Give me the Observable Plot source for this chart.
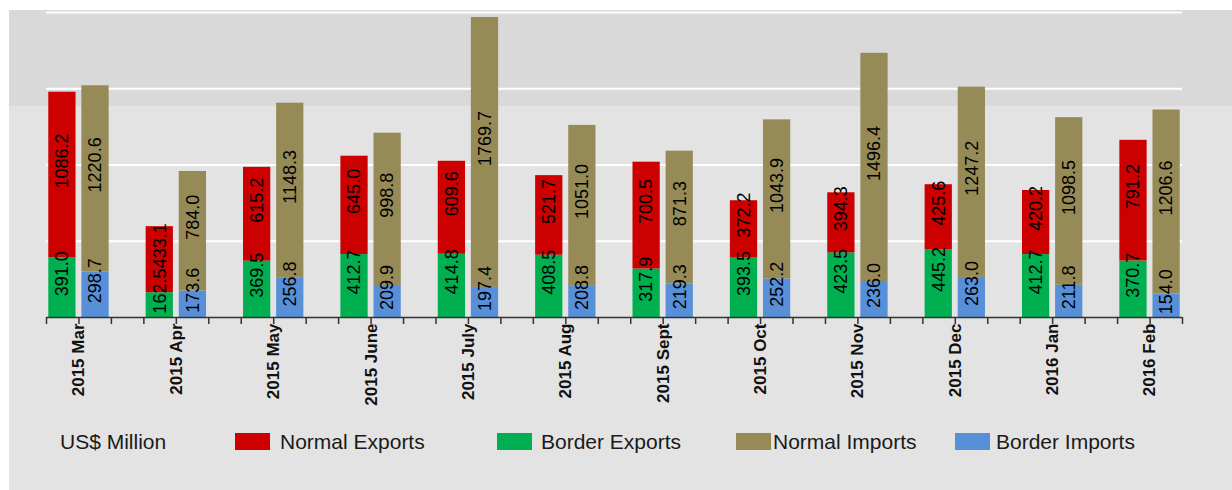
<!DOCTYPE html>
<html>
<head>
<meta charset="utf-8">
<script src="https://cdn.jsdelivr.net/npm/d3@7"></script>
<script src="https://cdn.jsdelivr.net/npm/@observablehq/plot@0.6"></script>
<style>
  html, body { margin: 0; padding: 0; background: #ffffff; }
  body { width: 1232px; height: 490px; position: relative; overflow: hidden; font-family: "Liberation Sans", Arial, sans-serif; }
  #panel { position: absolute; left: 9px; top: 10px; width: 1223px; height: 480px;
           background: linear-gradient(#d9d9d9 0px, #d9d9d9 96px, #e3e3e3 96px, #e3e3e3 100%); }
  #legend { position: absolute; left: 0; top: 420px; width: 1223px; height: 24px; font-size: 21px; color: #1a1a1a; }
  #legend .t { position: absolute; top: 0; line-height: 24px; white-space: nowrap; }
  #legend .s { position: absolute; top: 3px; width: 35px; height: 17px; }
</style>
</head>
<body>
<div id="panel">
  <div id="chart"></div>
  <div id="legend"></div>
</div>
<script>
const months = ["2015 Mar","2015 Apr","2015 May","2015 June","2015 July","2015 Aug","2015 Sept","2015 Oct","2015 Nov","2015 Dec","2016 Jan","2016 Feb"];
const normalExports = [1086.2, 433.1, 615.2, 645.0, 609.6, 521.7, 700.5, 372.2, 394.3, 425.6, 420.2, 791.2];
const borderExports = [391.0, 162.5, 369.5, 412.7, 414.8, 408.5, 317.9, 393.5, 423.5, 445.2, 412.7, 370.7];
const normalImports = [1220.6, 784.0, 1148.3, 998.8, 1769.7, 1051.0, 871.3, 1043.9, 1496.4, 1247.2, 1098.5, 1206.6];
const borderImports = [298.7, 173.6, 256.8, 209.9, 197.4, 208.8, 219.3, 252.2, 236.0, 263.0, 211.8, 154.0];
const gridValues = [500, 1000, 1500, 2000];
const unitLabel = "US$ Million";
const seriesNames = ["Normal Exports", "Border Exports", "Normal Imports", "Border Imports"];
const seriesColors = ["#cc0000", "#00b050", "#968b57", "#5790d8"];

const rows = months.map((m, i) => ({
  i, m,
  ne: normalExports[i], be: borderExports[i],
  ni: normalImports[i], bi: borderImports[i]
}));

// axis tick positions: three per month
const tickVals = months.flatMap((m, i) => [i - 1/3, i, i + 1/3]);

const EXP = [-0.31, -0.03], IMP = [0.03, 0.31];
const lab = {rotate: -90, dy: -14, fontSize: 18, fill: "#000", fontFamily: "Liberation Sans, Arial, sans-serif"};

const chart = Plot.plot({
  width: 1223,
  height: 405,
  marginLeft: 37,
  marginRight: 50,
  marginTop: 2,
  marginBottom: 98,
  style: {background: "transparent", fontFamily: "Liberation Sans, Arial, sans-serif", overflow: "visible"},
  x: {type: "linear", domain: [-1/3, months.length - 1 + 1/3], axis: null},
  y: {domain: [0, 2000], axis: null},
  marks: [
    Plot.gridY(gridValues, {stroke: "#ffffff", strokeOpacity: 1, strokeWidth: 2}),
    // exports
    Plot.rect(rows, {x1: d => d.i + EXP[0], x2: d => d.i + EXP[1], y1: d => 0, y2: d => d.be, fill: seriesColors[1]}),
    Plot.rect(rows, {x1: d => d.i + EXP[0], x2: d => d.i + EXP[1], y1: d => d.be, y2: d => d.be + d.ne, fill: seriesColors[0]}),
    // imports
    Plot.rect(rows, {x1: d => d.i + IMP[0], x2: d => d.i + IMP[1], y1: d => 0, y2: d => d.bi, fill: seriesColors[3]}),
    Plot.rect(rows, {x1: d => d.i + IMP[0], x2: d => d.i + IMP[1], y1: d => d.bi, y2: d => d.bi + d.ni, fill: seriesColors[2]}),
    // axis line and ticks
    Plot.ruleY([0], {stroke: "#333", strokeWidth: 1.5}),
    Plot.axisX({ticks: tickVals, tickSize: 7, tickFormat: () => "", label: null, stroke: "#333", strokeWidth: 1.5}),
    // value labels
    Plot.text(rows, {...lab, x: d => d.i + (EXP[0] + EXP[1]) / 2, y: d => d.be / 2, text: d => d.be.toFixed(1)}),
    Plot.text(rows, {...lab, x: d => d.i + (EXP[0] + EXP[1]) / 2, y: d => d.be + d.ne / 2, text: d => d.ne.toFixed(1)}),
    Plot.text(rows, {...lab, x: d => d.i + (IMP[0] + IMP[1]) / 2, y: d => d.bi / 2, text: d => d.bi.toFixed(1)}),
    Plot.text(rows, {...lab, x: d => d.i + (IMP[0] + IMP[1]) / 2, y: d => d.bi + d.ni / 2, text: d => d.ni.toFixed(1)}),
    // month labels
    Plot.text(rows, {x: d => d.i, y: d => 0, text: d => d.m, rotate: -90, textAnchor: "end", dy: 6,
                     fontWeight: "bold", fontSize: 17, fill: "#111", fontFamily: "Liberation Sans, Arial, sans-serif"})
  ]
});
document.getElementById("chart").appendChild(chart);

// legend
const legend = document.getElementById("legend");
const unit = document.createElement("span");
unit.className = "t"; unit.style.left = "51px"; unit.textContent = unitLabel;
legend.appendChild(unit);
const swatchLeft = [226, 488, 727, 946];
const textLeft = [271, 532, 764, 987];
seriesNames.forEach((name, k) => {
  const s = document.createElement("span");
  s.className = "s"; s.style.left = swatchLeft[k] + "px"; s.style.background = seriesColors[k];
  legend.appendChild(s);
  const t = document.createElement("span");
  t.className = "t"; t.style.left = textLeft[k] + "px"; t.textContent = name;
  legend.appendChild(t);
});
</script>
</body>
</html>
